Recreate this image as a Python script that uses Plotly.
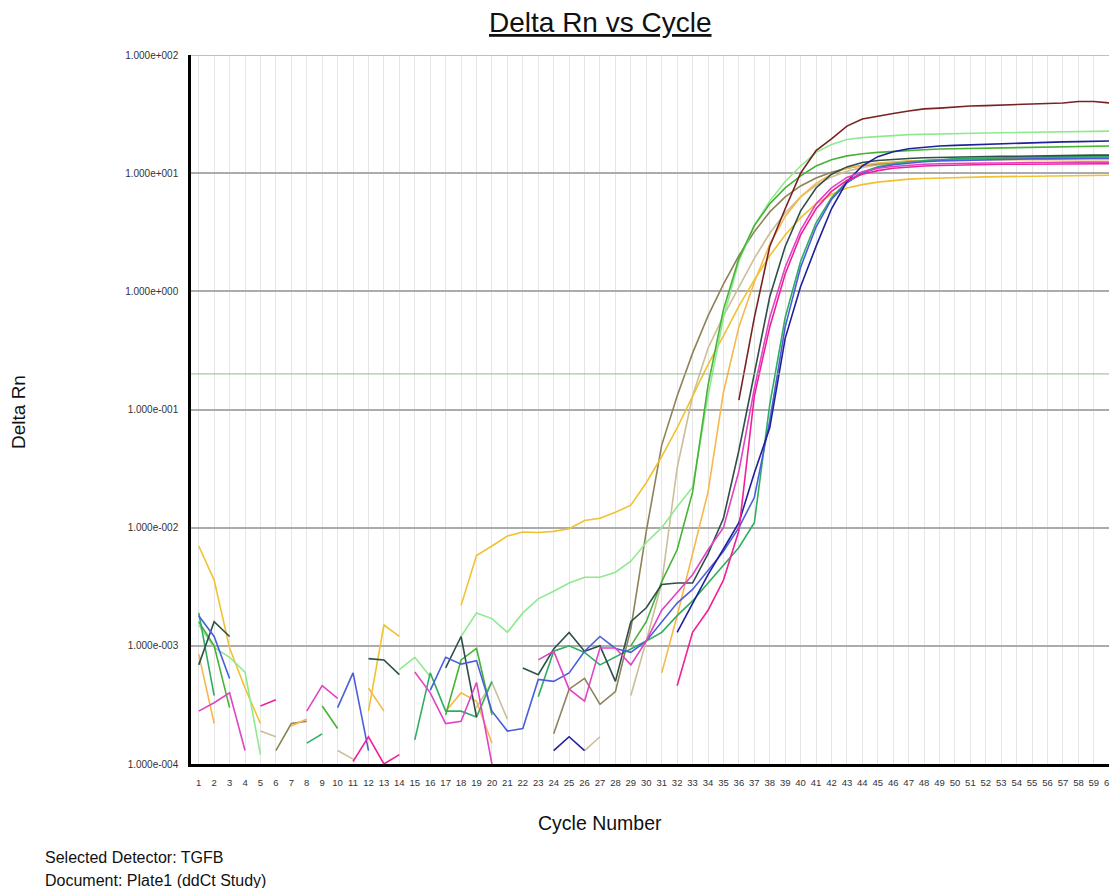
import plotly.graph_objects as go

N = None
cycles = list(range(1, 61))

maroon = [N]*35 + [0.12, 0.6, 2.4, 5.0, 10.0, 15.5, 19.5, 25, 28.7, 30.5, 32, 33.6, 35, 35.5, 36.3, 37, 37.3, 37.7, 38, 38.5, 38.8, 39.3, 40.4, 40.4, 39.3]

light_green = [1.5e-3, 9.7e-4, 8e-4, 6e-4, 1.2e-4, N, N, N, N, N, N, N, N, 6.3e-4, 8e-4, 5.5e-4, N, 1.2e-3, 1.9e-3, 1.7e-3,
               1.3e-3, 1.9e-3, 2.5e-3, 2.9e-3, 3.4e-3, 3.8e-3, 3.8e-3, 4.2e-3, 5.2e-3, 7.5e-3, 1.0e-2, 1.5e-2, 2.2e-2, 0.13, 0.6, 1.8, 3.6, 5.8, 8.5, 11.5,
               15, 17.5, 19.3, 20, 20.5, 20.8, 21.2, 21.4, 21.5, 21.6, 21.8, 21.9, 22, 22.1, 22.2, 22.3, 22.4, 22.5, 22.6, 22.7]

green = [1.6e-3, 1.0e-3, 3.0e-4, N, N, N, N, N, 3.1e-4, 2.0e-4, N, N, N, N, N, N, 2.6e-4, 7.6e-4, 9.5e-4, 2.6e-4,
         N, N, N, N, N, N, N, N, 1.0e-3, 1.6e-3, 3.5e-3, 6.5e-3, 2.0e-2, 0.16, 0.7, 1.9, 3.6, 5.5, 7.5, 9.5,
         11.5, 13, 14, 14.6, 15, 15.3, 15.6, 15.8, 16, 16.1, 16.2, 16.3, 16.4, 16.5, 16.6, 16.7, 16.8, 16.9, 16.9, 17]

sea_green = [1.9e-3, 3.8e-4, N, N, N, N, N, 1.5e-4, 1.8e-4, N, N, N, N, N, 1.6e-4, 5.9e-4, 2.8e-4, 2.8e-4, 2.5e-4, 5e-4,
             N, N, 3.7e-4, 9e-4, 1.0e-3, 8.8e-4, 6.9e-4, 8e-4, 9.4e-4, 1.1e-3, 1.3e-3, 1.8e-3, 2.4e-3, 3.4e-3, 4.8e-3, 6.8e-3, 1.1e-2, 0.11, 0.6, 1.8,
             3.8, 6.2, 8.5, 10.2, 11.3, 12, 12.5, 12.8, 13, 13.2, 13.3, 13.4, 13.5, 13.6, 13.7, 13.8, 13.9, 13.9, 14, 14]

dark_slate = [6.9e-4, 1.6e-3, 1.2e-3, N, N, N, N, N, N, N, N, 7.8e-4, 7.6e-4, 5.7e-4, N, N, 6.5e-4, 1.2e-3, 2.5e-4, N,
              N, 6.5e-4, 5.7e-4, 9.4e-4, 1.3e-3, 9e-4, 1.0e-3, 5e-4, 1.6e-3, 2.1e-3, 3.3e-3, 3.4e-3, 3.4e-3, 6e-3, 1.2e-2, 0.045, 0.2, 0.9, 2.4, 4.8,
              7.5, 9.8, 11.3, 12.3, 12.8, 13.1, 13.3, 13.5, 13.6, 13.7, 13.8, 13.8, 13.9, 13.9, 14, 14, 14.1, 14.1, 14.2, 14.2]

royal_blue = [1.8e-3, 1.2e-3, 5.3e-4, N, N, N, N, N, N, 3e-4, 5.9e-4, 1.3e-4, N, N, N, 4.2e-4, 8e-4, 7e-4, 7.5e-4, 2.8e-4,
              1.9e-4, 2e-4, 5.2e-4, 5e-4, 5.9e-4, 9e-4, 1.2e-3, 9.5e-4, 8.8e-4, 1.1e-3, 1.6e-3, 2.3e-3, 3.0e-3, 4.3e-3, 6.3e-3, 1.0e-2, 1.8e-2, 0.08, 0.5, 1.6,
              3.5, 6, 8.3, 10, 11.1, 11.8, 12.2, 12.5, 12.7, 12.8, 12.9, 13, 13.1, 13.1, 13.2, 13.2, 13.3, 13.3, 13.4, 13.4]

dark_blue = [N]*23 + [1.3e-4, 1.7e-4, 1.3e-4, N, N, N, N, N, 1.3e-3, 2.3e-3, 4e-3, 6.6e-3, 1.1e-2, 2.9e-2, 7e-2, 0.4, 1.1,
                      2.4, 5, 8.5, 11.5, 13.8, 15.2, 16.1, 16.6, 17, 17.2, 17.4, 17.6, 17.8, 18, 18.1, 18.3, 18.4, 18.5, 18.6, 18.7]

magenta = [2.8e-4, 3.3e-4, 4.0e-4, 1.3e-4, N, N, N, 2.8e-4, 4.6e-4, 3.6e-4, N, N, N, N, 6e-4, 4e-4, 2.2e-4, 2.3e-4, 4.9e-4, 1.0e-4,
           N, N, 7.6e-4, 9e-4, 4.3e-4, 3.4e-4, 9.6e-4, 9.6e-4, 6.9e-4, 1.1e-3, 2.0e-3, 2.8e-3, 4.0e-3, 6.5e-3, 1.0e-2, 0.03, 0.15, 0.6, 1.6, 3.3,
           5.5, 7.5, 9.2, 10.3, 11, 11.4, 11.7, 11.9, 12, 12.1, 12.1, 12.2, 12.2, 12.3, 12.3, 12.3, 12.4, 12.4, 12.4, 12.4]

pink = [N, N, N, N, 3.1e-4, 3.5e-4, N, N, N, N, 1.05e-4, 1.7e-4, 1.0e-4, 1.2e-4, N, N, N, N, N, N,
        N, N, N, N, N, N, N, N, N, N, N, 4.6e-4, 1.3e-3, 2.0e-3, 3.6e-3, 9.4e-3, 0.13, 0.5, 1.4, 3.0,
        5.0, 7.0, 8.7, 9.8, 10.5, 11, 11.3, 11.5, 11.6, 11.7, 11.8, 11.8, 11.9, 11.9, 11.9, 12, 12, 12, 12, 12]

gold = [7e-3, 3.6e-3, 9.6e-4, 4.4e-4, 2.2e-4, N, N, N, N, N, N, 2.8e-4, 1.5e-3, 1.2e-3, N, N, N, 2.2e-3, 5.8e-3, 7e-3,
        8.5e-3, 9.2e-3, 9.1e-3, 9.3e-3, 9.8e-3, 1.15e-2, 1.2e-2, 1.35e-2, 1.55e-2, 2.4e-2, 4e-2, 7e-2, 0.13, 0.24, 0.42, 0.75, 1.25, 2.0, 3.0, 4.2,
        5.5, 6.6, 7.5, 8.0, 8.4, 8.7, 8.9, 9.0, 9.1, 9.2, 9.25, 9.3, 9.35, 9.4, 9.45, 9.5, 9.5, 9.55, 9.6, 9.6]

light_orange = [8.5e-4, 2.2e-4, N, N, N, N, 2.1e-4, 2.4e-4, N, N, N, 4.4e-4, 2.8e-4, N, N, N, 2.8e-4, 4e-4, 3.4e-4, 1.5e-4,
                N, N, N, N, N, N, N, N, N, N, 5.9e-4, 1.8e-3, 6e-3, 2e-2, 0.14, 0.5, 1.2, 2.5, 4.3, 6.3,
                8.2, 9.8, 11, 11.7, 12.2, 12.5, 12.7, 12.8, 12.9, 12.9, 13, 13, 13, 13, 13, 13, 13, 13, 13, 13]

olive = [N, N, N, N, N, 1.3e-4, 2.2e-4, 2.3e-4, N, N, N, N, N, N, N, N, N, N, N, N,
         N, N, N, 1.8e-4, 4.3e-4, 5.3e-4, 3.2e-4, 4.1e-4, 1.4e-3, 9.3e-3, 5e-2, 0.13, 0.3, 0.62, 1.15, 2.0, 3.2, 4.7, 6.3, 7.8,
         9.1, 10.2, 11, 11.6, 12, 12.3, 12.6, 12.8, 13, 13.1, 13.2, 13.3, 13.4, 13.5, 13.6, 13.7, 13.8, 13.9, 14, 14]

tan = [N, N, N, N, 1.9e-4, 1.7e-4, N, N, N, 1.3e-4, 1.1e-4, N, N, N, N, N, N, N, 3e-4, 4.9e-4,
       2.4e-4, N, N, N, N, 1.3e-4, 1.7e-4, N, 3.8e-4, 1.1e-3, 3.4e-3, 3.2e-2, 0.13, 0.33, 0.62, 1.1, 1.9, 3.1, 4.6, 6.3,
       7.9, 9.3, 10.4, 11.2, 11.8, 12.2, 12.5, 12.7, 12.9, 13, 13.1, 13.2, 13.3, 13.4, 13.5, 13.5, 13.6, 13.6, 13.7, 13.7]

series = [
    ("tan", tan, "#CBBE98"),
    ("olive", olive, "#8E8258"),
    ("light_orange", light_orange, "#F6B84C"),
    ("gold", gold, "#F0C232"),
    ("light_green", light_green, "#8FEA8F"),
    ("green", green, "#47B336"),
    ("sea_green", sea_green, "#2FAE62"),
    ("dark_slate", dark_slate, "#2E4F4A"),
    ("royal_blue", royal_blue, "#4A5EDC"),
    ("dark_blue", dark_blue, "#20209A"),
    ("pink", pink, "#F0209C"),
    ("magenta", magenta, "#E044C4"),
    ("maroon", maroon, "#7A2222"),
]

threshold = 0.2
y_ticks = [1e-4, 1e-3, 1e-2, 1e-1, 1e0, 1e1, 1e2]
y_ticktext = ["1.000e-004", "1.000e-003", "1.000e-002", "1.000e-001", "1.000e+000", "1.000e+001", "1.000e+002"]

fig = go.Figure()
for name, vals, col in series:
    fig.add_trace(go.Scatter(x=cycles, y=vals, mode="lines", name=name,
                             line=dict(color=col, width=1.6), connectgaps=False,
                             showlegend=False))

fig.add_trace(go.Scatter(x=[0.5, 60.5], y=[threshold, threshold], mode="lines",
                         line=dict(color="#8FB88F", width=1), showlegend=False))

# page offset of 8px (body margin) is compensated here
OFF = 8
PL, PT, PR, PB = 191, 55, 1117, 764   # plot area in page pixels
W, H = 1117 - OFF, 888 - OFF
pw, ph = PR - PL, PB - PT

def px(xp):
    return (xp - PL) / pw

def py(yp):
    return (PB - yp) / ph

fig.update_layout(
    width=W, height=H,
    margin=dict(l=PL - OFF, r=W - (PR - OFF), t=PT - OFF, b=H - (PB - OFF), pad=0),
    paper_bgcolor="white", plot_bgcolor="white",
    font=dict(family="Liberation Sans, Arial, sans-serif", color="#222"),
    showlegend=False,
)
fig.update_xaxes(range=[0.5, 60.5], tickmode="array", tickvals=cycles,
                 ticktext=[str(c) for c in cycles], showgrid=True,
                 gridcolor="#E6E6E6", gridwidth=1, showline=True,
                 linecolor="black", linewidth=3, ticks="", zeroline=False,
                 tickfont=dict(size=9.5, color="#333"), ticklabelstandoff=8)
fig.update_yaxes(type="log", range=[-4, 2], tickmode="array", tickvals=y_ticks,
                 ticktext=y_ticktext, showgrid=True, gridcolor="#ABABAB",
                 gridwidth=1.5, showline=True, linecolor="black", linewidth=2.5,
                 ticks="", zeroline=False, tickfont=dict(size=10, color="#333"),
                 ticklabelstandoff=8)

fig.add_shape(type="rect", xref="paper", yref="y", x0=0.003, x1=1, y0=45, y1=81,
              fillcolor="white", line=dict(width=0), layer="between")
fig.add_shape(type="line", xref="paper", yref="y", x0=0, x1=1, y0=100, y1=100,
              line=dict(color="#ABABAB", width=1.5))

def note(text, xp, yp, size, xanchor="center", angle=0):
    fig.add_annotation(text=text, xref="paper", yref="paper", x=px(xp), y=py(yp),
                       xanchor=xanchor, yanchor="middle", textangle=angle,
                       showarrow=False, font=dict(size=size, color="#111"))

note("<u>Delta Rn vs Cycle</u>", 600, 22, 28)
note("Delta Rn", 18, 412, 19, angle=-90)
note("Cycle Number", 600, 823, 19.5)
note("Selected Detector: TGFB", 43, 857, 16, xanchor="left")
note("Document: Plate1 (ddCt Study)", 43, 880, 16, xanchor="left")

fig.write_html("out.html")
